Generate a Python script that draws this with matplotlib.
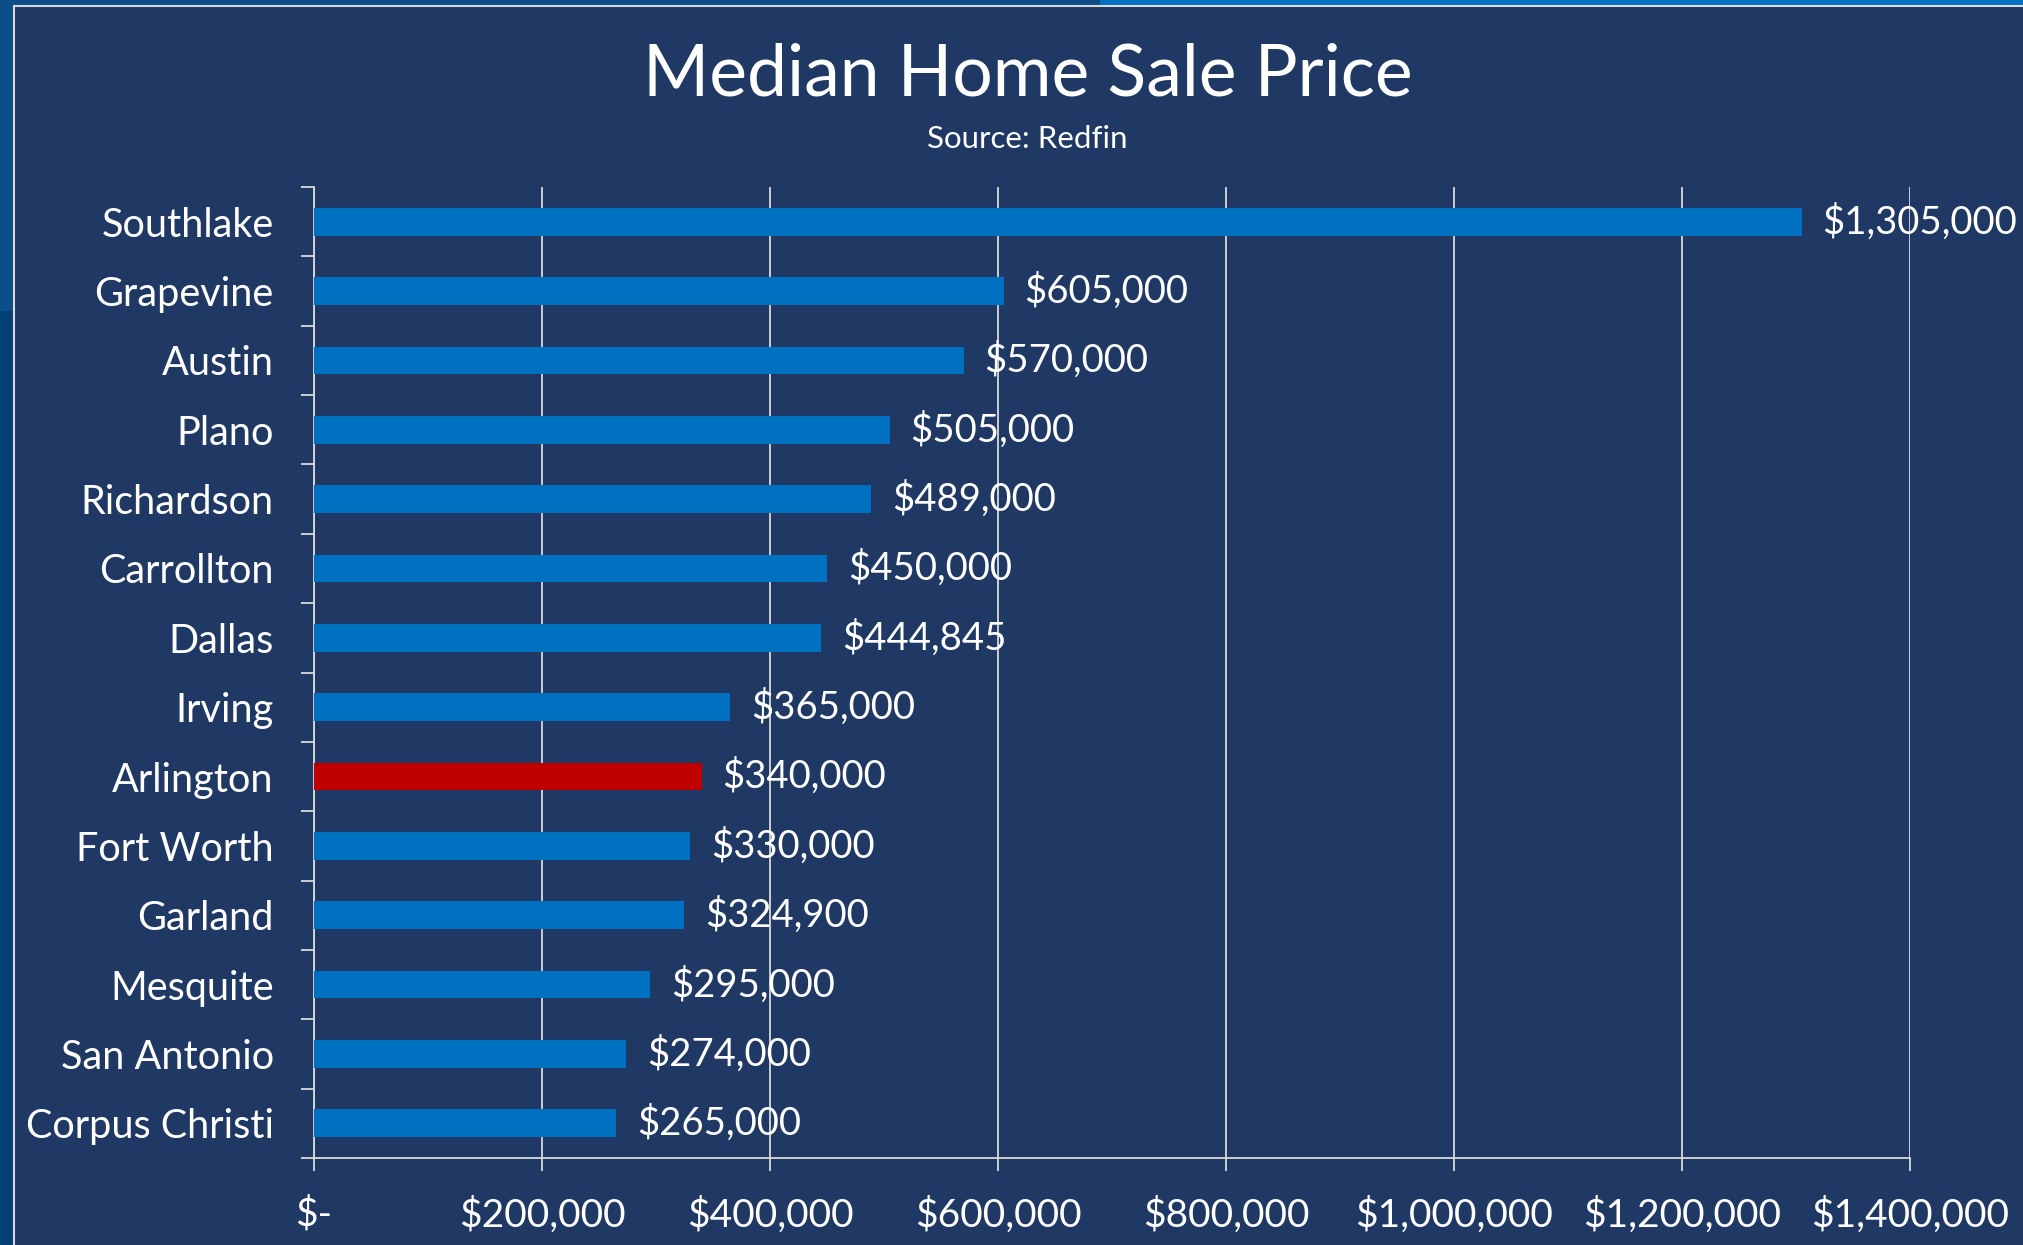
import numpy as np
import matplotlib.pyplot as plt
from matplotlib.patches import Rectangle
from matplotlib.ticker import FuncFormatter, FixedLocator

cities = ["Southlake", "Grapevine", "Austin", "Plano", "Richardson", "Carrollton",
          "Dallas", "Irving", "Arlington", "Fort Worth", "Garland", "Mesquite",
          "San Antonio", "Corpus Christi"]
prices = [1305000, 605000, 570000, 505000, 489000, 450000,
          444845, 365000, 340000, 330000, 324900, 295000,
          274000, 265000]
highlight = "Arlington"

title = "Median Home Sale Price"
subtitle = "Source: Redfin"
x_ticks = [0, 200000, 400000, 600000, 800000, 1000000, 1200000, 1400000]

W, H = 2023, 1245
BG = "#203864"
BAR = "#0070C0"
RED = "#C00000"
LINE = "#d9d9d9"
FONT = "Lato"

plt.rcParams["font.family"] = [FONT, "DejaVu Sans"]

fig = plt.figure(figsize=(W / 100, H / 100), dpi=100)
fig.patch.set_facecolor("#0b4e88")

# slide background strips and the chart frame
fig.patches.append(Rectangle((1100 / W, 0), 1, 1, transform=fig.transFigure,
                             facecolor="#0070c0", edgecolor="none", zorder=0))
fig.patches.append(Rectangle((0, 0), 14 / W, 0.75, transform=fig.transFigure,
                             facecolor="#024274", edgecolor="none", zorder=0))
fig.patches.append(Rectangle((14 / W, -0.05), 1.0, 1 - 6 / H + 0.05,
                             transform=fig.transFigure, facecolor=BG,
                             edgecolor=LINE, linewidth=1.5, zorder=1))

left, right, top, bottom = 314, 1910, 187, 1158
ax = fig.add_axes([left / W, 1 - bottom / H, (right - left) / W, (bottom - top) / H])
ax.set_facecolor("none")
ax.set_zorder(2)

y = np.arange(len(cities))
colors = [RED if c == highlight else BAR for c in cities]
ax.barh(y, prices, height=0.4, color=colors, zorder=3)

ax.set_xlim(0, 1400000)
ax.set_ylim(len(cities) - 0.5, -0.5)

for yi, v in zip(y, prices):
    ax.annotate(f"${v:,.0f}", (v, yi), xytext=(15, 0), textcoords="offset points",
                va="center", ha="left", color="white", fontsize=27.5, zorder=4,
                annotation_clip=False)

ax.xaxis.set_major_locator(FixedLocator(x_ticks))
ax.xaxis.set_major_formatter(FuncFormatter(lambda v, p: "$-" if v == 0 else f"${v:,.0f}"))
ax.grid(axis="x", color=LINE, linewidth=1.3, zorder=1)

ax.set_yticks(y)
ax.set_yticklabels(cities)
ax.set_yticks(np.arange(len(cities) + 1) - 0.5, minor=True)
ax.tick_params(axis="y", which="major", length=0, pad=29, labelsize=28.5, labelcolor="white")
ax.tick_params(axis="y", which="minor", length=9.5, width=1.3, color=LINE)
ax.tick_params(axis="x", length=9.5, width=1.3, color=LINE, pad=18,
               labelsize=28, labelcolor="white")

for side in ["top", "right"]:
    ax.spines[side].set_visible(False)
for side in ["left", "bottom"]:
    ax.spines[side].set_color(LINE)
    ax.spines[side].set_linewidth(1.3)

fig.text(1028 / W, 1 - 75 / H, title, ha="center", va="center", color="white",
         fontsize=51.5, zorder=5)
fig.text(1027 / W, 1 - 139 / H, subtitle, ha="center", va="center", color="white",
         fontsize=22.5, zorder=5)

fig.savefig("out.png", dpi=100, facecolor=fig.get_facecolor())
